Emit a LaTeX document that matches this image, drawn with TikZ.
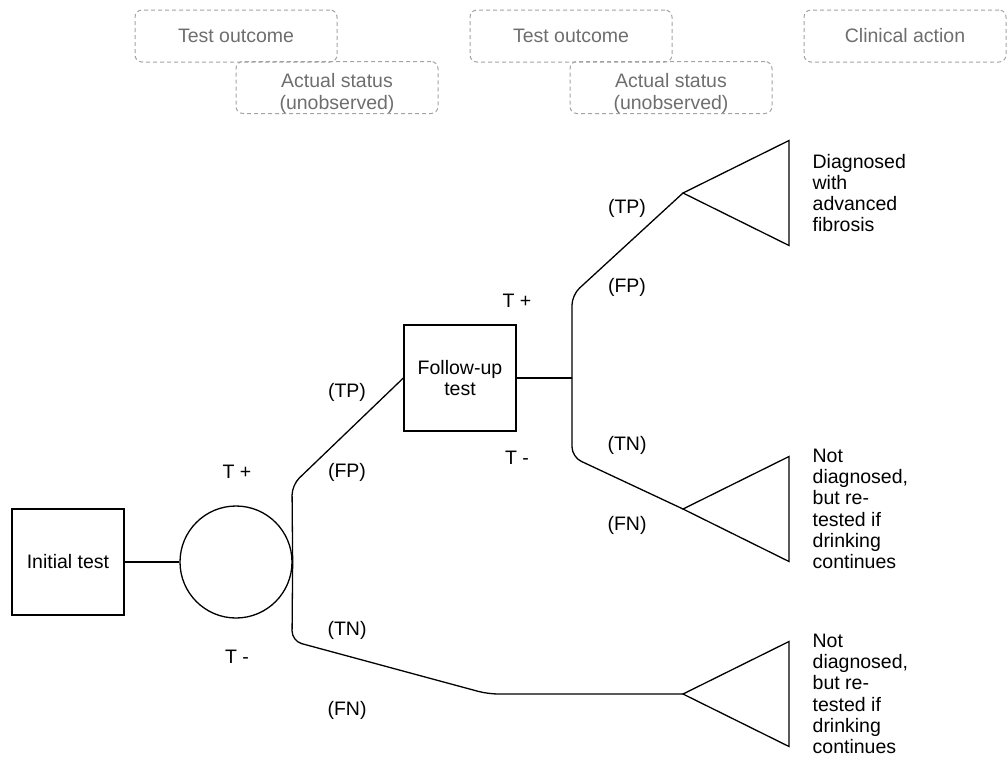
\documentclass[tikz,border=0pt]{standalone}
\usepackage{fontspec}
\setmainfont{Liberation Sans}
\usepackage{tikz}
\usetikzlibrary{shapes,arrows}
\definecolor{headergray}{HTML}{6E6E6E}
\definecolor{dashgray}{HTML}{A3A3A3}
\tikzset{headerbox/.style={rectangle, rounded corners=7pt, draw=dashgray, line width=1pt, dash pattern=on 4pt off 3pt, text=headergray, minimum width=202pt, minimum height=52pt, align=center}}
\newcommand{\dtheadernode}[3] {\node at (#1) (#2) [headerbox] {#3};}
\newcommand{\dtstatusnode}[3] {\node at (#1) (#2) [headerbox] {}; \node at ([yshift=-6pt]#2.center) (#2text) [text=headergray, align=center] {#3};}
\newcommand{\dtdecisionnode}[3] {\node at (#1) (#2) [rectangle, draw, minimum width=112pt, minimum height=106pt, align=center] {#3};}
\newcommand{\dtchancenode}[2] {\node at (#1) (#2) [circle, draw, minimum size=112pt, inner sep=0pt] {};}
\newcommand{\dtendnode}[3] {\draw (#1) -- ++(106,-52.5) -- ++(0,105) -- cycle; \node at ([xshift=129pt]#1) (#2) [anchor=west, inner sep=0pt, align=left] {#3};}
\newcommand{\dtbranch}[3] {\draw [rounded corners=10pt] (#1) -- (#2) -- (#3);}
\newcommand{\dtlabel}[3] {\node at (#1) (#2) {#3};}

\begin{document}
\begin{tikzpicture}[x=1pt, y=-1pt, line width=1.3pt, every node/.style={font=\fontsize{19.5}{21.3}\selectfont}]

\useasboundingbox (0,0) rectangle (1008,761);

% column headers
\dtheadernode{236,36}{outcomeA}{Test outcome};
\dtstatusnode{337,87.5}{statusA}{Actual status\\(unobserved)};
\dtheadernode{571,36}{outcomeB}{Test outcome};
\dtstatusnode{671,87.5}{statusB}{Actual status\\(unobserved)};
\dtheadernode{905,36}{action}{Clinical action};

% tree
\dtdecisionnode{68,562}{initial}{Initial test};
\dtchancenode{236,562}{chance};
\dtdecisionnode{460,378}{followup}{Follow-up\\test};
\coordinate (split) at (572,378);
\coordinate (tipA) at (683,193);
\coordinate (tipB) at (683,509);
\coordinate (tipC) at (683,694);

\draw (initial.east) -- (chance.west);
\dtbranch{chance.east}{292,485}{followup.west};
\draw [rounded corners=10pt] (chance.east) -- (292,641) -- (488,694) -- (tipC);
\draw (followup.east) -- (split);
\dtbranch{split}{572,295}{tipA};
\dtbranch{split}{572,457}{tipB};

\dtendnode{tipA}{diagnosed}{Diagnosed\\with\\advanced\\fibrosis};
\dtendnode{tipB}{retestB}{Not\\diagnosed,\\but re-\\tested if\\drinking\\continues};
\dtendnode{tipC}{retestC}{Not\\diagnosed,\\but re-\\tested if\\drinking\\continues};

% branch labels
\dtlabel{237,472}{tplusA}{T +};
\dtlabel{237,657}{tminusA}{T -};
\dtlabel{347,392}{tpA}{(TP)};
\dtlabel{347,472}{fpA}{(FP)};
\dtlabel{347,630}{tnA}{(TN)};
\dtlabel{347,710}{fnA}{(FN)};
\dtlabel{517,301}{tplusB}{T +};
\dtlabel{517,458}{tminusB}{T -};
\dtlabel{627,208}{tpB}{(TP)};
\dtlabel{627,287}{fpB}{(FP)};
\dtlabel{627,445}{tnB}{(TN)};
\dtlabel{627,525}{fnB}{(FN)};

\end{tikzpicture}
\end{document}
